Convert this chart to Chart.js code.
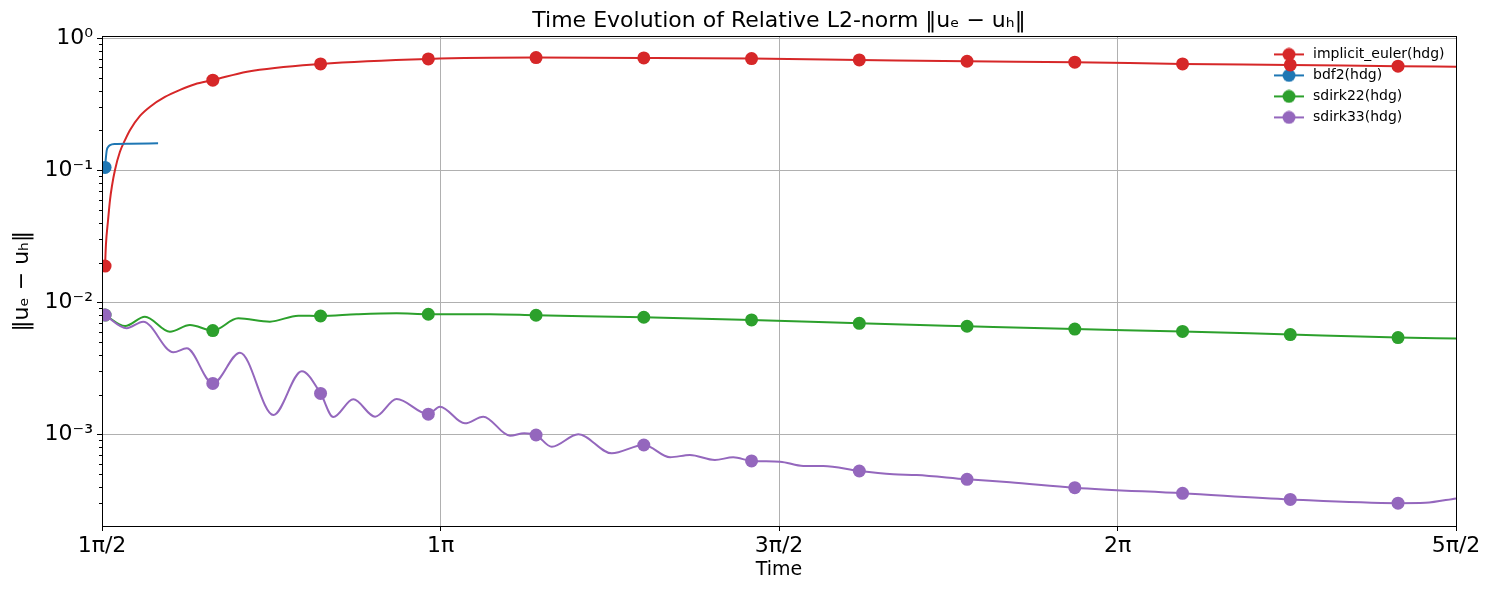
<!DOCTYPE html>
<html>
<head>
<meta charset="utf-8">
<script src="https://cdn.jsdelivr.net/npm/chart.js@4.4.0/dist/chart.umd.min.js"></script>
<style>
  html, body { margin: 0; padding: 0; background: #fff; }
  #wrap { width: 1489px; height: 590px; position: relative; }
</style>
</head>
<body>
<div id="wrap"><canvas id="myChart"></canvas></div>
<script>
const PI = Math.PI;
const FONT = "'DejaVu Sans', sans-serif";

// values (time, error norm)
const eulerT = [1.585, 1.589, 1.599, 1.608, 1.617, 1.631, 1.654, 1.678, 1.701, 1.747, 1.794, 1.863, 1.933, 2.002, 2.085, 2.244, 2.585, 3.085, 3.585, 4.085, 4.585, 5.085, 5.585, 6.085, 6.585, 7.085, 7.585, 7.854];
const eulerV = [0.0188, 0.0272, 0.0420, 0.0596, 0.0760, 0.1005, 0.138, 0.170, 0.202, 0.258, 0.303, 0.359, 0.406, 0.448, 0.481, 0.558, 0.639, 0.697, 0.713, 0.709, 0.701, 0.685, 0.669, 0.658, 0.639, 0.628, 0.614, 0.609];

const bdf2T = [1.585, 1.589, 1.593, 1.599, 1.608, 1.630, 1.700, 1.831];
const bdf2V = [0.105, 0.125, 0.142, 0.150, 0.155, 0.158, 0.159, 0.160];

const sdirk22T = [1.585, 1.678, 1.770, 1.886, 1.979, 2.085, 2.203, 2.350, 2.482, 2.585, 2.753, 2.938, 3.085, 3.371, 3.585, 4.085, 4.585, 5.085, 5.585, 6.085, 6.585, 7.085, 7.585, 7.854];
const sdirk22V = [0.0080, 0.00661, 0.00778, 0.00599, 0.00673, 0.00610, 0.00756, 0.00713, 0.00792, 0.00787, 0.00811, 0.00825, 0.00811, 0.00811, 0.00797, 0.00770, 0.00735, 0.00693, 0.00658, 0.00626, 0.00601, 0.00569, 0.00540, 0.00531];

const sdirk33T = [1.585, 1.685, 1.762, 1.902, 1.964, 2.085, 2.211, 2.366, 2.498, 2.585, 2.644, 2.737, 2.838, 2.938, 3.085, 3.139, 3.255, 3.340, 3.464, 3.530, 3.585, 3.658, 3.781, 3.936, 4.085, 4.207, 4.299, 4.415, 4.500, 4.585, 4.717, 4.825, 4.918, 5.085, 5.243, 5.351, 5.585, 5.784, 6.085, 6.585, 7.085, 7.585, 7.712, 7.854];
const sdirk33V = [0.0080, 0.00636, 0.00713, 0.00418, 0.00448, 0.00243, 0.00415, 0.00140, 0.00300, 0.00204, 0.00135, 0.00184, 0.00136, 0.00185, 0.00142, 0.00162, 0.00121, 0.00136, 0.000976, 0.00102, 0.000988, 0.000805, 0.00100, 0.000718, 0.000830, 0.000670, 0.000697, 0.000639, 0.000670, 0.000628, 0.000620, 0.000575, 0.000575, 0.000527, 0.000498, 0.000492, 0.000456, 0.000433, 0.000394, 0.000357, 0.000321, 0.000301, 0.000303, 0.000327];

// times where a marker is drawn
const markTimes = [1.585, 2.085, 2.585, 3.085, 3.585, 4.085, 4.585, 5.085, 5.585, 6.085, 6.585, 7.085, 7.585];

const xTicks = [PI / 2, PI, 3 * PI / 2, 2 * PI, 5 * PI / 2];
const xTickLabels = ['1π/2', '1π', '3π/2', '2π', '5π/2'];
const yMajor = [1e-3, 1e-2, 1e-1, 1];
const yMajorLabels = ['10⁻³', '10⁻²', '10⁻¹', '10⁰'];
const yMinor = [3e-4, 4e-4, 5e-4, 6e-4, 7e-4, 8e-4, 9e-4,
                2e-3, 3e-3, 4e-3, 5e-3, 6e-3, 7e-3, 8e-3, 9e-3,
                2e-2, 3e-2, 4e-2, 5e-2, 6e-2, 7e-2, 8e-2, 9e-2,
                2e-1, 3e-1, 4e-1, 5e-1, 6e-1, 7e-1, 8e-1, 9e-1];

const series = [
    {label: 'implicit_euler(hdg)', color: '#d62728', t: eulerT, v: eulerV, order: 3},
    {label: 'bdf2(hdg)', color: '#1f77b4', t: bdf2T, v: bdf2V, order: 2},
    {label: 'sdirk22(hdg)', color: '#2ca02c', t: sdirk22T, v: sdirk22V, order: 1},
    {label: 'sdirk33(hdg)', color: '#9467bd', t: sdirk33T, v: sdirk33V, order: 0}
];

function isMark(x) {
    return markTimes.some(m => Math.abs(m - x) < 1e-6);
}
function majorIndex(v) {
    return yMajor.findIndex(m => Math.abs(m - v) / m < 1e-6);
}

// little line+dot picture used as legend handle
function handle(color) {
    const c = document.createElement('canvas');
    c.width = 30; c.height = 14;
    const g = c.getContext('2d');
    g.strokeStyle = color; g.lineWidth = 2;
    g.beginPath(); g.moveTo(0, 7); g.lineTo(30, 7); g.stroke();
    g.fillStyle = color;
    g.beginPath(); g.arc(15, 7, 6.5, 0, 2 * Math.PI); g.fill();
    return c;
}

const datasets = series.map(s => ({
    label: s.label,
    data: s.t.map((t, i) => ({x: t, y: s.v[i]})),
    borderColor: s.color,
    backgroundColor: s.color,
    borderWidth: 2,
    cubicInterpolationMode: 'monotone',
    fill: false,
    pointRadius: c => (c.raw && isMark(c.raw.x)) ? 6.5 : 0,
    pointHoverRadius: c => (c.raw && isMark(c.raw.x)) ? 6.5 : 0,
    pointBackgroundColor: s.color,
    pointBorderWidth: 0,
    order: s.order
}));

const framePlugin = {
    id: 'frame',
    afterLayout(chart) {
        // put the legend inside the plot, upper right
        const lg = chart.legend, a = chart.chartArea;
        lg.left = a.right - 191;
        lg.right = a.right;
        lg.top = a.top + 4;
        lg.bottom = a.bottom;
    },
    afterDraw(chart) {
        const {ctx, chartArea: a, scales: {y}} = chart;
        ctx.save();
        ctx.strokeStyle = '#000';
        ctx.lineWidth = 1;
        ctx.beginPath();
        yMinor.forEach(v => {
            const py = Math.round(y.getPixelForValue(v)) + 0.5;
            ctx.moveTo(a.left - 3, py);
            ctx.lineTo(a.left, py);
        });
        ctx.stroke();
        ctx.strokeRect(Math.round(a.left) + 0.5, Math.round(a.top) + 0.5,
                       Math.round(a.right - a.left), Math.round(a.bottom - a.top));
        ctx.restore();
    }
};

Chart.defaults.font.family = FONT;
Chart.defaults.color = '#000';

const myChart = new Chart(document.getElementById('myChart'), {
    type: 'line',
    data: {datasets: datasets},
    plugins: [framePlugin],
    options: {
        responsive: true,
        maintainAspectRatio: false,
        devicePixelRatio: 1,
        animation: false,
        events: [],
        layout: {padding: {left: 0, right: 33, top: 0, bottom: 0}},
        plugins: {
            title: {
                display: true,
                fullSize: false,
                text: 'Time Evolution of Relative L2-norm ‖uₑ − uₕ‖',
                font: {family: FONT, size: 22, weight: 'normal'},
                color: '#000',
                padding: {top: 8, bottom: 2}
            },
            legend: {
                position: 'chartArea',
                align: 'start',
                labels: {
                    usePointStyle: true,
                    pointStyleWidth: 34,
                    padding: 7,
                    font: {family: FONT, size: 14},
                    color: '#000',
                    generateLabels: chart => chart.data.datasets.map((ds, i) => ({
                        text: ds.label,
                        pointStyle: handle(ds.borderColor),
                        fillStyle: ds.borderColor,
                        strokeStyle: ds.borderColor,
                        lineWidth: 0,
                        hidden: false,
                        fontColor: '#000',
                        datasetIndex: i
                    }))
                }
            },
            tooltip: {enabled: false}
        },
        scales: {
            x: {
                type: 'linear',
                min: PI / 2,
                max: 5 * PI / 2,
                afterBuildTicks: s => { s.ticks = xTicks.map(v => ({value: v})); },
                afterFit: s => { s.height = 64; },
                ticks: {
                    autoSkip: false,
                    maxRotation: 0,
                    padding: 2,
                    font: {family: FONT, size: 22},
                    color: '#000',
                    callback: (v, i) => xTickLabels[i]
                },
                grid: {color: '#b0b0b0', lineWidth: 1, tickLength: 5, tickColor: '#000'},
                border: {display: false},
                title: {
                    display: true,
                    text: 'Time',
                    font: {family: FONT, size: 19},
                    color: '#000',
                    padding: {top: 0, bottom: 9}
                }
            },
            y: {
                type: 'logarithmic',
                min: 2.02e-4,
                max: 1.032,
                afterBuildTicks: s => {
                    s.ticks = yMinor.concat(yMajor).sort((a, b) => a - b).map(v => ({value: v}));
                },
                afterFit: s => { s.width = 102; },
                ticks: {
                    autoSkip: false,
                    padding: 4,
                    font: {family: FONT, size: 22},
                    color: '#000',
                    callback: v => {
                        const i = majorIndex(v);
                        return i >= 0 ? yMajorLabels[i] : '';
                    }
                },
                grid: {
                    lineWidth: 1,
                    tickLength: 5,
                    color: c => (c.tick && majorIndex(c.tick.value) >= 0) ? '#b0b0b0' : 'rgba(0,0,0,0)',
                    tickColor: c => (c.tick && majorIndex(c.tick.value) >= 0) ? '#000' : 'rgba(0,0,0,0)'
                },
                border: {display: false},
                title: {
                    display: true,
                    text: '‖uₑ − uₕ‖',
                    font: {family: FONT, size: 22},
                    color: '#000',
                    padding: {top: 9, bottom: 0}
                }
            }
        }
    }
});
</script>
</body>
</html>
